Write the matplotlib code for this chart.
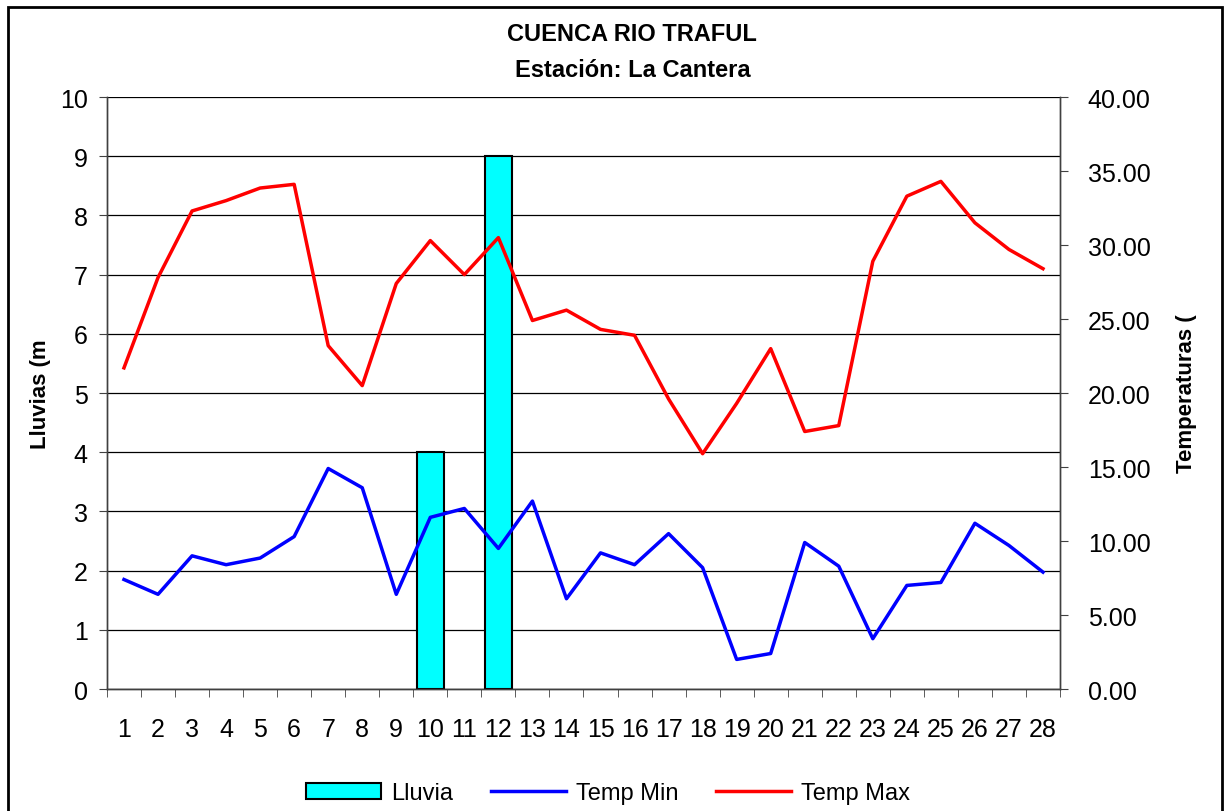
import matplotlib
matplotlib.use("Agg")
import matplotlib.pyplot as plt
from matplotlib.patches import Rectangle
from matplotlib.ticker import FixedLocator, FormatStrFormatter

plt.rcParams['font.family'] = ['Liberation Sans', 'DejaVu Sans']

dias = list(range(1, 29))
lluvia = [0, 0, 0, 0, 0, 0, 0, 0, 0, 4, 0, 9, 0, 0,
          0, 0, 0, 0, 0, 0, 0, 0, 0, 0, 0, 0, 0, 0]
temp_min = [7.4, 6.4, 9.0, 8.4, 8.85, 10.3, 14.9, 13.6, 6.4, 11.6, 12.2, 9.5, 12.7, 6.1,
            9.2, 8.4, 10.5, 8.2, 2.0, 2.4, 9.9, 8.3, 3.4, 7.0, 7.2, 11.2, 9.7, 7.9]
temp_max = [21.7, 27.8, 32.3, 33.0, 33.85, 34.1, 23.2, 20.5, 27.4, 30.3, 28.0, 30.5, 24.9, 25.6,
            24.3, 23.9, 19.6, 15.9, 19.3, 23.0, 17.4, 17.8, 28.9, 33.3, 34.3, 31.5, 29.7, 28.4]

fig = plt.figure(figsize=(12.28, 8.12), dpi=100)
ax = fig.add_axes([0.0871, 0.1502, 0.7761, 0.7291])
ax2 = ax.twinx()

# barras de lluvia (solo dias con lluvia, para no dibujar barras de altura cero)
dias_ll = [d for d, v in zip(dias, lluvia) if v > 0]
vals_ll = [v for v in lluvia if v > 0]
bars = ax.bar(dias_ll, vals_ll, width=0.8, color='#00FFFF', edgecolor='black',
              linewidth=1.5, zorder=3, label='Lluvia')
ax.set_ylim(0, 10)
ax.set_xlim(0.5, 28.5)
ax.set_yticks(range(0, 11))
ax.yaxis.grid(True, color='black', linewidth=0.9)
ax.set_axisbelow(True)

# temperaturas
l1, = ax2.plot(dias, temp_min, color='#0000FF', linewidth=2.5, label='Temp Min')
l2, = ax2.plot(dias, temp_max, color='#FF0000', linewidth=2.5, label='Temp Max')
ax2.set_ylim(0, 40)
ax2.set_yticks(range(0, 41, 5))
ax2.yaxis.set_major_formatter(FormatStrFormatter('%.2f'))

for a in (ax, ax2):
    a.spines['top'].set_visible(False)
    for s in a.spines.values():
        s.set_linewidth(1.0)
        s.set_color('#404040')

ax.set_xticks(dias)
ax.set_xticklabels([str(d) for d in dias])
ax.xaxis.set_minor_locator(FixedLocator([d + 0.5 for d in range(0, 29)]))
ax.tick_params(axis='x', which='major', length=0, pad=20, labelsize=18)
ax.tick_params(axis='x', which='minor', length=6, direction='out', color='#404040')
ax.tick_params(axis='y', length=6, pad=8, labelsize=18, color='#404040')
ax2.tick_params(axis='y', length=6, pad=14, labelsize=18, color='#404040')

ax.set_ylabel('Lluvias (m', fontsize=16, fontweight='bold', labelpad=6)
ax2.set_ylabel('Temperaturas (', fontsize=16, fontweight='bold', labelpad=18)

fig.text(0.515, 0.958, 'CUENCA RIO TRAFUL', ha='center', va='center',
         fontsize=17, fontweight='bold')
fig.text(0.515, 0.913, 'Estación: La Cantera', ha='center', va='center',
         fontsize=17, fontweight='bold')

fig.legend([bars, l1, l2], ['Lluvia', 'Temp Min', 'Temp Max'], loc='center',
           bbox_to_anchor=(0.495, 0.022), ncol=3, frameon=False, fontsize=17,
           handlelength=3.2, columnspacing=1.6, handletextpad=0.4)

# marco exterior
fig.patches.append(Rectangle((8 / 1228, -0.02), 1214 / 1228, 1 - 8 / 812 + 0.02,
                             transform=fig.transFigure, fill=False,
                             edgecolor='black', linewidth=2))

fig.savefig('out.png', dpi=100)
